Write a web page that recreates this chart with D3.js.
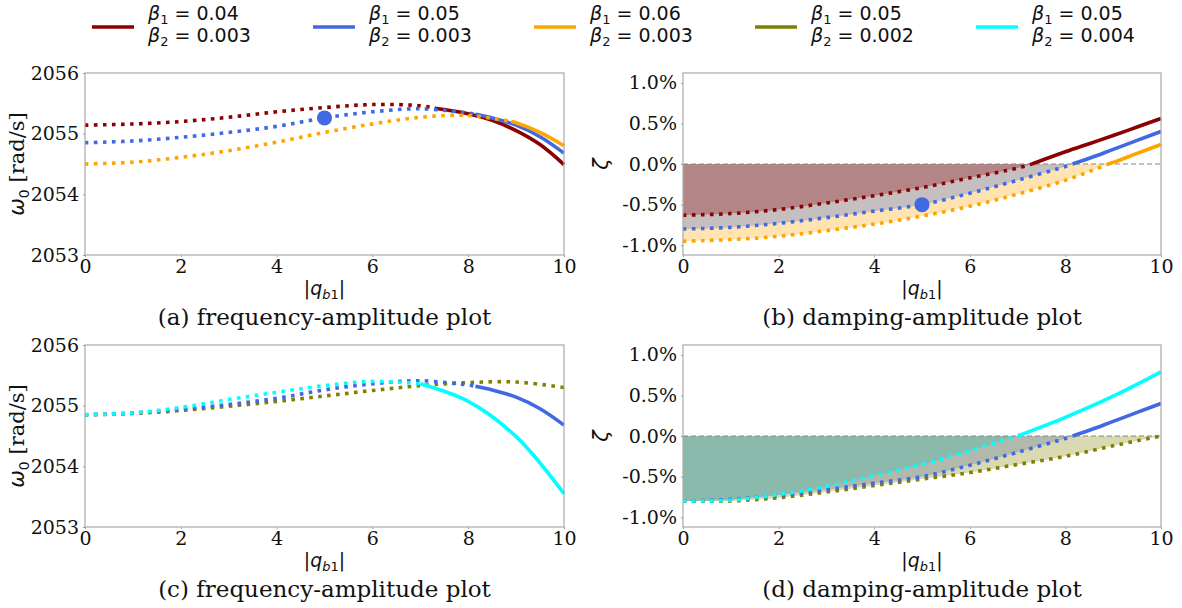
<!DOCTYPE html>
<html>
<head>
<meta charset="utf-8">
<script src="https://cdn.jsdelivr.net/npm/d3@7"></script>
<style>
  body { margin: 0; background: #fff; }
  svg { display: block; }
</style>
</head>
<body>
<div id="chart"></div>
<script>
// ---- data (|q_b1| vs omega_0 [rad/s] and zeta [%]) ----
const Q_RED     = [0, 1, 2, 3, 4, 5, 6, 7, 7.3, 8, 8.5, 9, 9.5, 10];
const OMEGA_RED = [2055.14, 2055.16, 2055.20, 2055.27, 2055.36, 2055.43, 2055.48, 2055.46, 2055.42, 2055.33, 2055.22, 2055.05, 2054.82, 2054.49];
const ZETA_RED  = [-0.63, -0.61, -0.56, -0.48, -0.39, -0.29, -0.17, -0.05, 0, 0.15, 0.25, 0.35, 0.455, 0.56];

const Q_BLUE     = [0, 1, 2, 3, 4, 5, 6, 7, 8, 8.15, 8.5, 9, 9.5, 10];
const OMEGA_BLUE = [2054.85, 2054.88, 2054.94, 2055.02, 2055.12, 2055.26, 2055.36, 2055.41, 2055.34, 2055.32, 2055.26, 2055.14, 2054.95, 2054.68];
const ZETA_BLUE  = [-0.80, -0.78, -0.73, -0.66, -0.58, -0.50, -0.36, -0.20, -0.03, 0, 0.07, 0.18, 0.29, 0.40];

const Q_ORANGE     = [0, 1, 2, 3, 4, 5, 6, 7, 8, 8.9, 9, 9.5, 10];
const OMEGA_ORANGE = [2054.50, 2054.53, 2054.61, 2054.72, 2054.86, 2055.02, 2055.16, 2055.27, 2055.30, 2055.20, 2055.18, 2055.02, 2054.80];
const ZETA_ORANGE  = [-0.95, -0.93, -0.89, -0.82, -0.74, -0.64, -0.52, -0.37, -0.20, 0, 0.02, 0.13, 0.24];

const Q_OLIVE     = [0, 1, 2, 3, 4, 5, 6, 7, 8, 9, 10];
const OMEGA_OLIVE = [2054.85, 2054.87, 2054.92, 2054.99, 2055.07, 2055.16, 2055.25, 2055.33, 2055.38, 2055.39, 2055.30];
const ZETA_OLIVE  = [-0.80, -0.80, -0.76, -0.69, -0.61, -0.53, -0.45, -0.35, -0.25, -0.12, 0];

const Q_CYAN     = [0, 1, 2, 3, 4, 5, 6, 7, 8, 9, 10];
const OMEGA_CYAN = [2054.85, 2054.88, 2054.97, 2055.10, 2055.22, 2055.33, 2055.40, 2055.36, 2055.07, 2054.49, 2053.55];
const ZETA_CYAN  = [-0.80, -0.79, -0.72, -0.62, -0.49, -0.35, -0.18, 0, 0.23, 0.49, 0.79];

// where zeta crosses zero: dotted before, solid after
const CROSS = { red: 7.3, blue: 8.15, orange: 8.9, olive: 10, cyan: 7 };

const BETA1 = ['0.04', '0.05', '0.06', '0.05', '0.05'];
const BETA2 = ['0.003', '0.003', '0.003', '0.002', '0.004'];

const DOT_Q = 5, DOT_OMEGA = 2055.26, DOT_ZETA = -0.5;

const X_TICKS = [0, 2, 4, 6, 8, 10];
const OMEGA_TICKS = [2053, 2054, 2055, 2056];
const ZETA_TICKS = [-1.0, -0.5, 0.0, 0.5, 1.0];
const CAPTIONS = ['(a) frequency-amplitude plot', '(b) damping-amplitude plot',
                  '(c) frequency-amplitude plot', '(d) damping-amplitude plot'];

const COLORS = { red: '#8b0000', blue: '#4169e1', orange: '#ffa500', olive: '#808000', cyan: '#00ffff' };

const mk = (name, q, omega, zeta) => ({
  name, color: COLORS[name], cross: CROSS[name],
  pts: q.map((v, i) => ({ q: v, omega: omega[i], zeta: zeta[i] }))
});
const red = mk('red', Q_RED, OMEGA_RED, ZETA_RED);
const blue = mk('blue', Q_BLUE, OMEGA_BLUE, ZETA_BLUE);
const orange = mk('orange', Q_ORANGE, OMEGA_ORANGE, ZETA_ORANGE);
const olive = mk('olive', Q_OLIVE, OMEGA_OLIVE, ZETA_OLIVE);
const cyan = mk('cyan', Q_CYAN, OMEGA_CYAN, ZETA_CYAN);

const W = 1182, H = 608;
const SERIF = "'DejaVu Serif', serif";
const SANS = "'DejaVu Sans', sans-serif";

const svg = d3.select('#chart').append('svg').attr('width', W).attr('height', H);

const panels = [
  { box: [85, 564, 73, 255],   key: 'omega', series: [red, blue, orange], fills: [], dot: true },
  { box: [683, 1161, 73, 255], key: 'zeta',  series: [red, blue, orange], fills: [orange, blue, red], dot: true },
  { box: [85, 564, 345, 527],  key: 'omega', series: [olive, blue, cyan], fills: [], dot: false },
  { box: [683, 1161, 345, 527], key: 'zeta', series: [olive, blue, cyan], fills: [cyan, blue, olive], dot: false }
];

const smooth = d3.curveCatmullRom.alpha(0.5);

function drawPanel(p, idx) {
  const [x0, x1, y0, y1] = p.box;
  const g = svg.append('g');
  const x = d3.scaleLinear().domain([0, 10]).range([x0, x1]);
  const isOmega = p.key === 'omega';
  const y = d3.scaleLinear().domain(isOmega ? [2053, 2056] : [-1.12, 1.12]).range([y1, y0]);

  // shaded unstable regions
  p.fills.forEach(s => {
    const pts = s.pts.filter(d => d.q <= s.cross);
    const area = d3.area()
      .x(d => x(d.q))
      .y0(y(0))
      .y1(d => y(d.zeta))
      .curve(smooth);
    g.append('path').datum(pts)
      .attr('fill', s.color).attr('fill-opacity', 0.3)
      .attr('d', area);
  });

  if (!isOmega) {
    g.append('line')
      .attr('x1', x(0)).attr('x2', x(10))
      .attr('y1', y(0)).attr('y2', y(0))
      .attr('stroke', '#888').attr('stroke-width', 1.2)
      .attr('stroke-dasharray', '5 3');
  }

  const line = d3.line()
    .x(d => x(d.q))
    .y(d => y(d[p.key]))
    .curve(smooth);

  p.series.forEach(s => {
    const dotted = s.pts.filter(d => d.q <= s.cross);
    const solid = s.pts.filter(d => d.q >= s.cross);
    g.append('path').datum(dotted)
      .attr('fill', 'none').attr('stroke', s.color)
      .attr('stroke-width', 3.6).attr('stroke-dasharray', '3.6 5.4')
      .attr('d', line);
    if (solid.length > 1) {
      g.append('path').datum(solid)
        .attr('fill', 'none').attr('stroke', s.color)
        .attr('stroke-width', 3.6)
        .attr('d', line);
    }
  });

  if (p.dot) {
    g.append('circle')
      .attr('cx', x(DOT_Q))
      .attr('cy', y(isOmega ? DOT_OMEGA : DOT_ZETA))
      .attr('r', 7.5)
      .attr('fill', COLORS.blue);
  }

  // axes
  const xAxis = g.append('g')
    .attr('transform', `translate(0,${y1})`)
    .call(d3.axisBottom(x).tickValues(X_TICKS).tickSize(2).tickPadding(3));
  const yAxis = g.append('g')
    .attr('transform', `translate(${x0},0)`)
    .call(d3.axisLeft(y)
      .tickValues(isOmega ? OMEGA_TICKS : ZETA_TICKS)
      .tickSize(2).tickPadding(4)
      .tickFormat(d => isOmega ? d : `${d.toFixed(1)}%`));
  [xAxis, yAxis].forEach(a => {
    a.select('.domain').remove();
    a.selectAll('line').attr('stroke', '#999');
    a.selectAll('text')
      .attr('fill', '#111')
      .style('font-family', SERIF)
      .style('font-size', '19px');
  });

  g.append('rect')
    .attr('x', x0).attr('y', y0)
    .attr('width', x1 - x0).attr('height', y1 - y0)
    .attr('fill', 'none').attr('stroke', '#aaa').attr('stroke-width', 1.2);

  const cx = (x0 + x1) / 2;

  // x label |q_b1|
  const xl = g.append('text')
    .attr('x', cx).attr('y', y1 + 40)
    .attr('text-anchor', 'middle')
    .attr('fill', '#111')
    .style('font-family', SANS).style('font-size', '19px');
  xl.append('tspan').text('|');
  xl.append('tspan').style('font-style', 'italic').text('q');
  xl.append('tspan').attr('dy', 4).style('font-size', '13px').style('font-style', 'italic').text('b');
  xl.append('tspan').style('font-size', '13px').text('1');
  xl.append('tspan').attr('dy', -4).text('|');

  // caption
  g.append('text')
    .attr('x', cx).attr('y', y1 + 70)
    .attr('text-anchor', 'middle')
    .attr('fill', '#111')
    .style('font-family', SERIF).style('font-size', '23px')
    .text(CAPTIONS[idx]);

  // y label
  const lx = isOmega ? x0 - 61 : x0 - 75;
  const yl = g.append('text')
    .attr('transform', `translate(${lx},${(y0 + y1) / 2}) rotate(-90)`)
    .attr('text-anchor', 'middle')
    .attr('fill', '#111')
    .style('font-size', '21px');
  if (isOmega) {
    yl.append('tspan').style('font-family', SANS).style('font-style', 'italic').text('ω');
    yl.append('tspan').attr('dy', 5).style('font-family', SANS).style('font-size', '14px').text('0');
    yl.append('tspan').attr('dy', -5).style('font-family', SERIF).text(' [rad/s]');
  } else {
    yl.append('tspan').style('font-family', SANS).style('font-style', 'italic').text('ζ');
  }
}

panels.forEach(drawPanel);

// legend
const legendSeries = [red, blue, orange, olive, cyan];
const LEG_X0 = 92, LEG_STEP = 221;
legendSeries.forEach((s, i) => {
  const lx = LEG_X0 + i * LEG_STEP;
  svg.append('line')
    .attr('x1', lx).attr('x2', lx + 42)
    .attr('y1', 27).attr('y2', 27)
    .attr('stroke', s.color).attr('stroke-width', 3.6);
  [[BETA1[i], '1', 20], [BETA2[i], '2', 42]].forEach(([val, sub, by]) => {
    const t = svg.append('text')
      .attr('x', lx + 56).attr('y', by)
      .attr('fill', '#111')
      .style('font-family', SANS).style('font-size', '19px');
    t.append('tspan').style('font-style', 'italic').text('β');
    t.append('tspan').attr('dy', 4).style('font-size', '13px').text(sub);
    t.append('tspan').attr('dy', -4).text(` = ${val}`);
  });
});
</script>
</body>
</html>
